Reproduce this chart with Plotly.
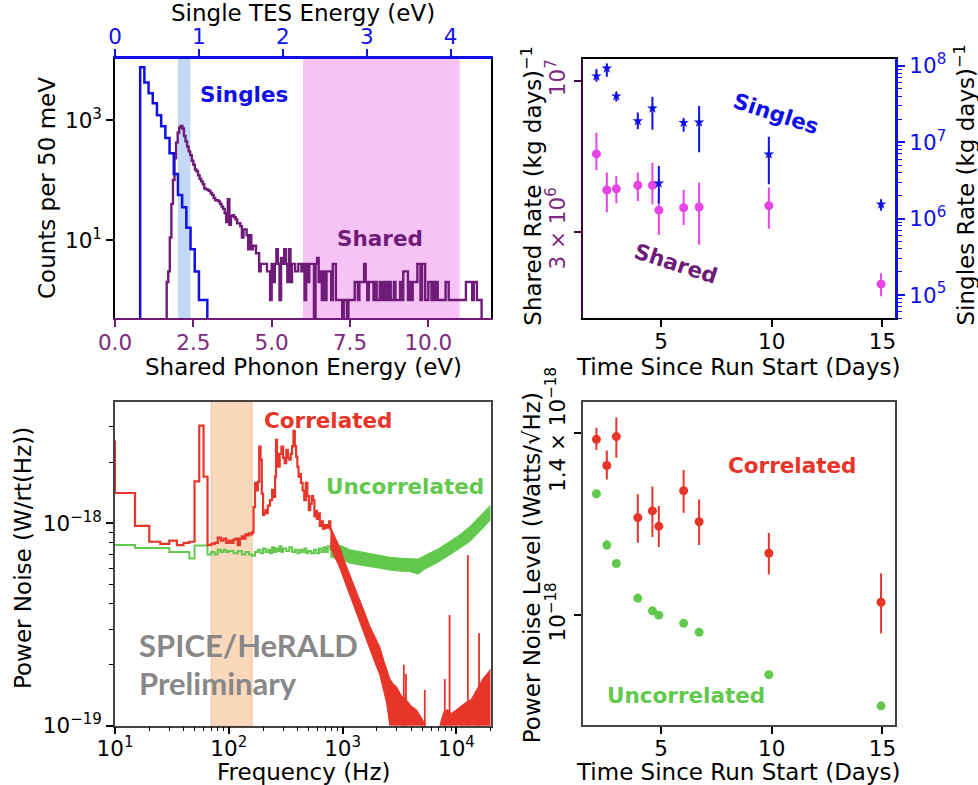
import numpy as np
import plotly.graph_objects as go

W, H = 978, 785

# ---------------- top left: energy spectra (50 meV bins) ----------------
BIN = 0.05
single_start = 0.30  # eV, single TES energy (top axis)
single_counts = [7600, 4200, 2800, 1900, 1200, 790, 500, 280, 126, 56,
                 35, 16, 7, 3, 1, 1]
shared_start = 1.65  # eV, shared phonon energy (bottom axis)
shared_counts = [
    2, 3, 11, 40, 100, 230, 420, 620, 750, 800,
    720, 540, 440, 360, 300, 260, 210, 180, 150, 140,
    120, 105, 95, 85, 72, 70, 68, 66, 60, 56,
    50, 46, 46, 44, 40, 36, 33, 28, 20, 48,
    18, 25, 26, 24, 22, 19, 19, 17, 11, 15,
    15, 12, 7, 12, 7, 8, 8, 6, 6, 3,
    4, 4, 4, 4, 3, 3, 1, 4, 2, 4,
    7, 4, 1, 5, 4, 7, 4, 2, 7, 2,
    4, 4, 3, 3, 4, 4, 3, 4, 1, 4,
    2, 4, 4, 4, 0, 4, 5, 2, 3, 1,
    3, 1, 3, 3, 3, 1, 4, 4, 1, 1,
    1, 1, 0, 1, 1, 0, 1, 1, 1, 1,
    2, 2, 1, 2, 2, 2, 4, 2, 1, 2,
    2, 2, 1, 2, 1, 1, 2, 1, 2, 1,
    2, 1, 2, 1, 1, 2, 1, 1, 1, 2,
    1, 3, 3, 3, 1, 2, 1, 2, 2, 2,
    4, 4, 1, 4, 4, 1, 1, 2, 2, 1,
    2, 1, 2, 1, 1, 1, 1, 1, 2, 2,
    1, 1, 1, 1, 1, 1, 1, 1, 1, 1,
    1, 2, 2, 2, 2, 1, 2, 2, 1, 1,
    1,
]
singles_window = (0.75, 0.90)  # single TES energy, eV
shared_window = (6.0, 11.0)    # shared phonon energy, eV

# ---------------- top right: rates vs time ----------------
days = [2.08, 2.55, 2.98, 3.95, 4.61, 4.90, 6.02, 6.72, 9.87, 14.94]
shared_rate = [5.58e6, 4.18e6, 4.22e6, 4.34e6, 4.34e6, 3.56e6, 3.63e6, 3.65e6, 3.69e6, 1.97e6]
shared_hi = [6.61e6, 4.81e6, 4.68e6, 4.81e6, 5.20e6, 4.13e6, 4.19e6, 4.44e6, 4.27e6, 2.15e6]
shared_lo = [4.90e6, 3.50e6, 3.76e6, 3.83e6, 3.73e6, 2.92e6, 3.16e6, 2.70e6, 3.07e6, 1.79e6]
singles_rate = [7.3e7, 9.25e7, 4.0e7, 1.89e7, 2.77e7, 2.9e6, 1.8e7, 1.82e7, 6.95e6, 1.54e6]
singles_hi = [9.06e7, 1.07e8, 4.57e7, 2.45e7, 3.94e7, 4.89e6, 2.04e7, 2.97e7, 1.18e7, 1.79e6]
singles_lo = [6.17e7, 7.18e7, 3.39e7, 1.47e7, 1.45e7, 1.58e6, 1.37e7, 7.38e6, 2.82e6, 1.27e6]

# ---------------- bottom left: noise spectra (units of 1e-18 W/rt(Hz)) ----------------
red_step_f = [5, 10, 15, 20, 25, 30, 35, 40, 45, 50, 55, 60, 65, 70, 75, 80, 85, 90, 95,
              100, 105, 110, 115, 120, 125, 130, 135, 140, 145, 150, 155, 160, 165, 170,
              175, 180, 185, 190, 195, 200, 205, 210, 215, 220, 230, 240, 250, 255, 260,
              265, 270, 280, 290, 300, 310, 320, 330, 340, 350, 360, 370, 380, 390, 400,
              410, 420, 430, 445, 460, 475, 490, 505, 520, 535, 550, 565, 580, 595, 610,
              630, 650, 670, 700, 730, 760, 780]
red_step_v = [2.53, 1.41, 0.97, 0.81, 0.79, 0.82, 0.78, 0.80, 0.81, 1.61, 3.03, 1.70, 0.78,
              0.79, 0.80, 0.85, 0.82, 0.84, 0.80, 0.82, 0.80, 0.83, 0.84, 0.78, 0.84, 0.86,
              0.84, 0.88, 0.87, 0.89, 0.88, 0.90, 1.20, 1.58, 1.45, 1.60, 2.39, 2.06, 1.40,
              1.10, 1.12, 1.16, 1.12, 1.22, 1.30, 1.46, 1.35, 1.70, 2.58, 2.20, 1.90, 2.20,
              2.39, 2.10, 1.98, 2.30, 2.10, 2.06, 2.20, 2.40, 2.86, 2.40, 2.13, 1.90, 1.70,
              1.75, 1.58, 1.45, 1.30, 1.58, 1.36, 1.16, 1.25, 1.36, 1.30, 1.08, 1.15, 1.05,
              1.12, 0.97, 1.02, 0.94, 0.98, 0.95, 1.02, 0.92]
red_band_f = [780, 850, 944, 1050, 1156, 1290, 1416, 1570, 1734, 1920, 2123, 2300, 2430,
              2600, 2800, 2970, 3300, 3640, 4000, 4456, 4900, 5300, 5800, 6900, 7300, 7800,
              8400, 9000, 10000, 11000, 12000, 13500, 15000, 17000, 20000]
red_band_hi = [0.96, 0.86, 0.76, 0.64, 0.56, 0.48, 0.42, 0.36, 0.31, 0.275, 0.245, 0.21,
               0.19, 0.17, 0.16, 0.156, 0.14, 0.134, 0.125, 0.12, 0.11, 0.102, 0.09, 0.09,
               0.105, 0.118, 0.12, 0.115, 0.12, 0.125, 0.13, 0.135, 0.15, 0.17, 0.19]
red_band_lo = [0.76, 0.68, 0.60, 0.51, 0.44, 0.375, 0.325, 0.28, 0.24, 0.205, 0.178, 0.15,
               0.13, 0.10, 0.08, 0.05, 0.05, 0.05, 0.05, 0.05, 0.05, 0.05, 0.05, 0.05,
               0.05, 0.05, 0.05, 0.05, 0.05, 0.05, 0.05, 0.05, 0.05, 0.05, 0.05]
red_spike_f = [3450, 3600, 5270, 7900, 8700, 12600, 15800]
red_spike_v = [0.20, 0.18, 0.15, 0.17, 0.352, 0.697, 0.286]

green_step_f = [10, 15, 20, 25, 30, 35, 40, 45, 50, 55, 60, 65, 70, 75, 80, 85, 90, 95, 100,
                110, 120, 130, 140, 150, 160, 170, 180, 190, 200, 210, 220, 230, 240, 250,
                260, 270, 280, 290, 300, 320, 340, 360, 380, 400, 420, 440, 460, 480, 500,
                530, 560, 590, 620, 650, 680, 710, 740, 780]
green_step_v = [0.78, 0.755, 0.755, 0.755, 0.72, 0.72, 0.72, 0.67, 0.775, 0.775, 0.775, 0.70,
                0.72, 0.70, 0.74, 0.72, 0.74, 0.72, 0.73, 0.71, 0.73, 0.70, 0.72, 0.70, 0.69,
                0.72, 0.74, 0.71, 0.75, 0.72, 0.74, 0.71, 0.76, 0.72, 0.75, 0.73, 0.77, 0.72,
                0.75, 0.73, 0.76, 0.72, 0.74, 0.71, 0.74, 0.72, 0.75, 0.71, 0.73, 0.71, 0.74,
                0.71, 0.75, 0.72, 0.76, 0.72, 0.77, 0.73]
green_band_f = [780, 1000, 1156, 1400, 1734, 2100, 2600, 3200, 3890, 4600, 5200, 5830, 7000,
                8700, 10500, 13100, 17100, 20000]
green_band_hi = [0.80, 0.77, 0.74, 0.725, 0.711, 0.695, 0.679, 0.672, 0.671, 0.665, 0.69,
                 0.711, 0.75, 0.811, 0.87, 0.962, 1.12, 1.23]
green_band_lo = [0.68, 0.66, 0.634, 0.62, 0.61, 0.60, 0.587, 0.58, 0.577, 0.56, 0.59, 0.61,
                 0.645, 0.697, 0.75, 0.811, 0.945, 1.04]
band_window = (70, 160)  # Hz

# ---------------- bottom right: noise level vs time (units of 1e-18) ----------------
corr = [1.383, 1.318, 1.390, 1.197, 1.212, 1.178, 1.258, 1.188, 1.121, 1.024]
corr_hi = [1.413, 1.355, 1.440, 1.250, 1.268, 1.223, 1.307, 1.238, 1.164, 1.080]
corr_lo = [1.356, 1.284, 1.337, 1.143, 1.155, 1.134, 1.208, 1.138, 1.078, 0.967]
uncorr = [1.251, 1.138, 1.100, 1.032, 1.008, 1.000, 0.985, 0.969, 0.896, 0.846]
uncorr_err = [0.006, 0.010, 0.006, 0.008, 0.005, 0.005, 0.005, 0.005, 0.005, 0.005]

# ---------------- styling ----------------
FONT = "DejaVu Sans"
PURPLE = "#6E1C78"
PURPLE_TICK = "#7D2A82"
PURPLE_SPINE = "#3A0A3E"
BLUE = "#1010E6"
MAGENTA = "#E644E6"
RED = "#E8352A"
GREEN = "#62C94E"
GRAY_FRAME = "#444444"
TICK = 21.5
TITLE = 23
SCALE = 1e-18


def fx(px):
    return px / W


def fy(py):
    return 1 - py / H


def hist_steps(start, counts, floor=0.1):
    edges = start + BIN * np.arange(len(counts) + 1)
    c = np.where(np.asarray(counts) > 0, counts, floor).astype(float)
    xs = np.concatenate([[edges[0]], edges[:-1], [edges[-1]]])
    ys = np.concatenate([[floor], c, [floor]])
    return xs, ys


fig = go.Figure()

# --- top left ---
sx, sy = hist_steps(shared_start, shared_counts)
fig.add_trace(go.Scatter(x=sx, y=sy, mode="lines", line=dict(color=PURPLE, width=2.4, shape="hv"),
                         xaxis="x", yaxis="y"))
bx, by = hist_steps(single_start, single_counts)
fig.add_trace(go.Scatter(x=bx, y=by, mode="lines", line=dict(color=BLUE, width=2.5, shape="hv"),
                         xaxis="x2", yaxis="y"))

# --- top right ---
sr = np.array(shared_rate)
fig.add_trace(go.Scatter(
    x=days, y=sr, mode="markers", xaxis="x3", yaxis="y2",
    marker=dict(color=MAGENTA, size=9),
    error_y=dict(type="data", symmetric=False, array=np.array(shared_hi) - sr,
                 arrayminus=sr - np.array(shared_lo), color=MAGENTA, thickness=2, width=0)))
gr = np.array(singles_rate)
fig.add_trace(go.Scatter(
    x=days, y=gr, mode="markers", xaxis="x3", yaxis="y3",
    marker=dict(color=BLUE, size=8, symbol="star"),
    error_y=dict(type="data", symmetric=False, array=np.array(singles_hi) - gr,
                 arrayminus=gr - np.array(singles_lo), color=BLUE, thickness=2, width=0)))

# --- bottom left ---
gf = np.array(green_band_f)
fig.add_trace(go.Scatter(x=green_step_f, y=np.array(green_step_v) * SCALE, mode="lines",
                         line=dict(color=GREEN, width=2, shape="hv"), xaxis="x4", yaxis="y4"))
fig.add_trace(go.Scatter(x=gf, y=np.array(green_band_lo) * SCALE, mode="lines",
                         line=dict(color=GREEN, width=1), xaxis="x4", yaxis="y4"))
fig.add_trace(go.Scatter(x=gf, y=np.array(green_band_hi) * SCALE, mode="lines",
                         line=dict(color=GREEN, width=1), fill="tonexty", fillcolor=GREEN,
                         xaxis="x4", yaxis="y4"))
rf = np.array(red_band_f)
fig.add_trace(go.Scatter(x=red_step_f, y=np.array(red_step_v) * SCALE, mode="lines",
                         line=dict(color=RED, width=2.2, shape="hv"), xaxis="x4", yaxis="y4"))
fig.add_trace(go.Scatter(x=rf, y=np.array(red_band_lo) * SCALE, mode="lines",
                         line=dict(color=RED, width=1), xaxis="x4", yaxis="y4"))
fig.add_trace(go.Scatter(x=rf, y=np.array(red_band_hi) * SCALE, mode="lines",
                         line=dict(color=RED, width=1), fill="tonexty", fillcolor=RED,
                         xaxis="x4", yaxis="y4"))
spx, spy = [], []
for f, v in zip(red_spike_f, red_spike_v):
    spx += [f, f, None]
    spy += [0.05 * SCALE, v * SCALE, None]
fig.add_trace(go.Scatter(x=spx, y=spy, mode="lines", line=dict(color=RED, width=1.8),
                         xaxis="x4", yaxis="y4"))

# --- bottom right ---
cv = np.array(corr)
fig.add_trace(go.Scatter(
    x=days, y=cv * SCALE, mode="markers", xaxis="x5", yaxis="y5",
    marker=dict(color=RED, size=9),
    error_y=dict(type="data", symmetric=False, array=(np.array(corr_hi) - cv) * SCALE,
                 arrayminus=(cv - np.array(corr_lo)) * SCALE, color=RED, thickness=2, width=0)))
fig.add_trace(go.Scatter(
    x=days, y=np.array(uncorr) * SCALE, mode="markers", xaxis="x5", yaxis="y5",
    marker=dict(color=GREEN, size=9),
    error_y=dict(type="data", array=np.array(uncorr_err) * SCALE, color=GREEN,
                 thickness=2, width=0)))

# --- shaded windows ---
shapes = [
    dict(type="rect", xref="x2", yref="y domain", x0=singles_window[0], x1=singles_window[1],
         y0=0, y1=1, fillcolor="#C3D9F7", line=dict(width=0), layer="below"),
    dict(type="rect", xref="x", yref="y domain", x0=shared_window[0], x1=shared_window[1],
         y0=0, y1=1, fillcolor="#F7C3F7", line=dict(width=0), layer="below"),
    dict(type="rect", xref="x4", yref="y4 domain", x0=band_window[0], x1=band_window[1],
         y0=0, y1=1, fillcolor="#F9D8BC", line=dict(color="#F2C29A", width=1), layer="below"),
]


def axis(**kw):
    base = dict(showgrid=False, zeroline=False, ticks="outside", ticklen=7, tickwidth=1.5,
                showline=True, linewidth=1.5, linecolor="black", tickcolor="black",
                automargin=False,
                tickfont=dict(size=TICK, color="black", family=FONT))
    base.update(kw)
    return base


def sup(base, exp):
    return f"{base}<sup>{exp}</sup>"


P1X = [fx(115), fx(491)]
P1Y = [fy(318), fy(59)]
P2X = [fx(582.7), fx(895)]
P2Y = [fy(318.3), fy(59.3)]
P3X = [fx(115), fx(490.7)]
P3Y = [fy(725.7), fy(401.7)]
P4X = [fx(582.7), fx(895)]
P4Y = [fy(725), fy(402.3)]

log_minor_19 = [k * 1e-19 for k in range(2, 10)] + [2e-18, 3e-18]
freq_minor = [k * 10 ** d for d in (1, 2, 3) for k in range(2, 10)] + [2e4]
rate_minor = [k * 10 ** d for d in (4, 5, 6, 7) for k in range(2, 10)]

fig.update_layout(
    width=W, height=H, margin=dict(l=0, r=0, t=0, b=0, autoexpand=False),
    paper_bgcolor="white", plot_bgcolor="white", showlegend=False,
    font=dict(family=FONT, color="black"),
    shapes=shapes,
    xaxis=axis(domain=P1X, anchor="y", range=[0, 12.0], tickvals=[0, 2.5, 5, 7.5, 10],
               ticktext=["0.0", "2.5", "5.0", "7.5", "10.0"], linecolor=PURPLE, tickcolor=PURPLE,
               ticklabelstandoff=-3,
               tickfont=dict(size=TICK, color=PURPLE_TICK, family=FONT)),
    xaxis2=axis(overlaying="x", side="top", anchor="y", range=[0, 4.48], tickvals=[0, 1, 2, 3, 4],
                linecolor=BLUE, tickcolor=BLUE, linewidth=3, ticklabelstandoff=-4,
                tickfont=dict(size=TICK, color=BLUE, family=FONT)),
    yaxis=axis(domain=P1Y, anchor="x", type="log", range=[-0.3, 4.017], tickvals=[10, 1000],
               ticktext=[sup(10, 1), sup(10, 3)], mirror=True),
    xaxis3=axis(domain=P2X, anchor="y2", range=[1.46, 15.57], tickvals=[5, 10, 15], mirror=True,
                ticklabelstandoff=-4),
    yaxis2=axis(domain=P2Y, anchor="x3", type="log", range=[6.176, 7.075], tickvals=[3e6, 1e7],
                ticktext=["3 × " + sup(10, 6), sup(10, 7)], tickangle=-90,
                linecolor=PURPLE_SPINE, tickcolor=PURPLE_SPINE, linewidth=2,
                tickfont=dict(size=TICK, color=PURPLE_TICK, family=FONT)),
    yaxis3=axis(overlaying="y2", side="right", anchor="x3", type="log", range=[4.695, 8.084],
                tickvals=[1e5, 1e6, 1e7, 1e8], ticktext=[sup(10, k) for k in (5, 6, 7, 8)],
                linecolor=BLUE, tickcolor=BLUE, linewidth=3,
                tickfont=dict(size=TICK, color=BLUE, family=FONT),
                minor=dict(ticks="outside", ticklen=4, tickwidth=1.2, tickcolor=BLUE,
                           tickmode="array", tickvals=rate_minor)),
    xaxis4=axis(domain=P3X, anchor="y4", type="log", range=[1, 4.301],
                tickvals=[10, 100, 1000, 10000], ticktext=[sup(10, k) for k in (1, 2, 3, 4)],
                linecolor=GRAY_FRAME, mirror=True, ticklabelstandoff=-4,
                minor=dict(ticks="outside", ticklen=4, tickwidth=1.2, tickcolor="black",
                           tickmode="array", tickvals=freq_minor)),
    yaxis4=axis(domain=P3Y, anchor="x4", type="log", range=[-19, -17.4], tickvals=[1e-19, 1e-18],
                ticktext=[sup(10, "−19"), sup(10, "−18")], linecolor=GRAY_FRAME, mirror=True,
                minor=dict(ticks="outside", ticklen=4, tickwidth=1.2, tickcolor="black",
                           tickmode="array", tickvals=log_minor_19)),
    xaxis5=axis(domain=P4X, anchor="y5", range=[1.46, 15.57], tickvals=[5, 10, 15],
                linecolor=GRAY_FRAME, mirror=True, ticklabelstandoff=-4),
    yaxis5=axis(domain=P4Y, anchor="x5", type="log", range=[-18.088, -17.8295],
                tickvals=[1e-18, 1.4e-18], ticktext=[sup(10, "−18"), "1.4 × " + sup(10, "−18")],
                tickangle=-90, linecolor=GRAY_FRAME, mirror=True),
)


def label(text, x, y, size=TITLE, color="black", angle=0, xa="center", ya="middle",
          bold=False, family=FONT):
    if bold:
        text = f"<b>{text}</b>"
    fig.add_annotation(text=text, x=fx(x), y=fy(y), xref="paper", yref="paper",
                       showarrow=False, textangle=angle, xanchor=xa, yanchor=ya,
                       font=dict(size=size, color=color, family=family))


# axis titles
label("Single TES Energy (eV)", 303, 13.5)
label("Shared Phonon Energy (eV)", 303, 366.5)
label("Counts per 50 meV", 47, 188, angle=-90)
label("Time Since Run Start (Days)", 738.7, 366.5)
label("Shared Rate (kg days)" + sup("", "−1"), 531.7, 328, angle=-90, ya="bottom")
label("Singles Rate (kg days)" + sup("", "−1"), 964, 328, angle=-90, ya="bottom")
label("Frequency (Hz)", 303, 771.5)
label("Power Noise (W/rt(Hz))", 23, 558, angle=-90)
label("Time Since Run Start (Days)", 738.7, 771.5)
label("Power Noise Level (Watts/√Hz)", 531.7, 745, angle=-90, ya="bottom")

# in-panel labels
label("Singles", 243.7, 94.3, size=21.5, color=BLUE, bold=True)
label("Shared", 380, 238.3, size=21.5, color=PURPLE, bold=True)
label("Singles", 775.7, 113.3, size=21.5, color=BLUE, bold=True, angle=18)
label("Shared", 675.7, 263.3, size=21.5, color=PURPLE, bold=True, angle=18)
label("Correlated", 327.7, 420, size=21.5, color=RED, bold=True)
label("Uncorrelated", 405, 486.7, size=21.5, color=GREEN, bold=True)
label("SPICE/HeRALD", 136.7, 645, size=31, color="#888888", bold=True, xa="left", family="Lato")
label("Preliminary", 136.7, 683.3, size=31, color="#888888", bold=True, xa="left", family="Lato")
label("Correlated", 792.3, 465, size=21.5, color=RED, bold=True)
label("Uncorrelated", 685.7, 695, size=21.5, color=GREEN, bold=True)

fig.write_html("out.html")
